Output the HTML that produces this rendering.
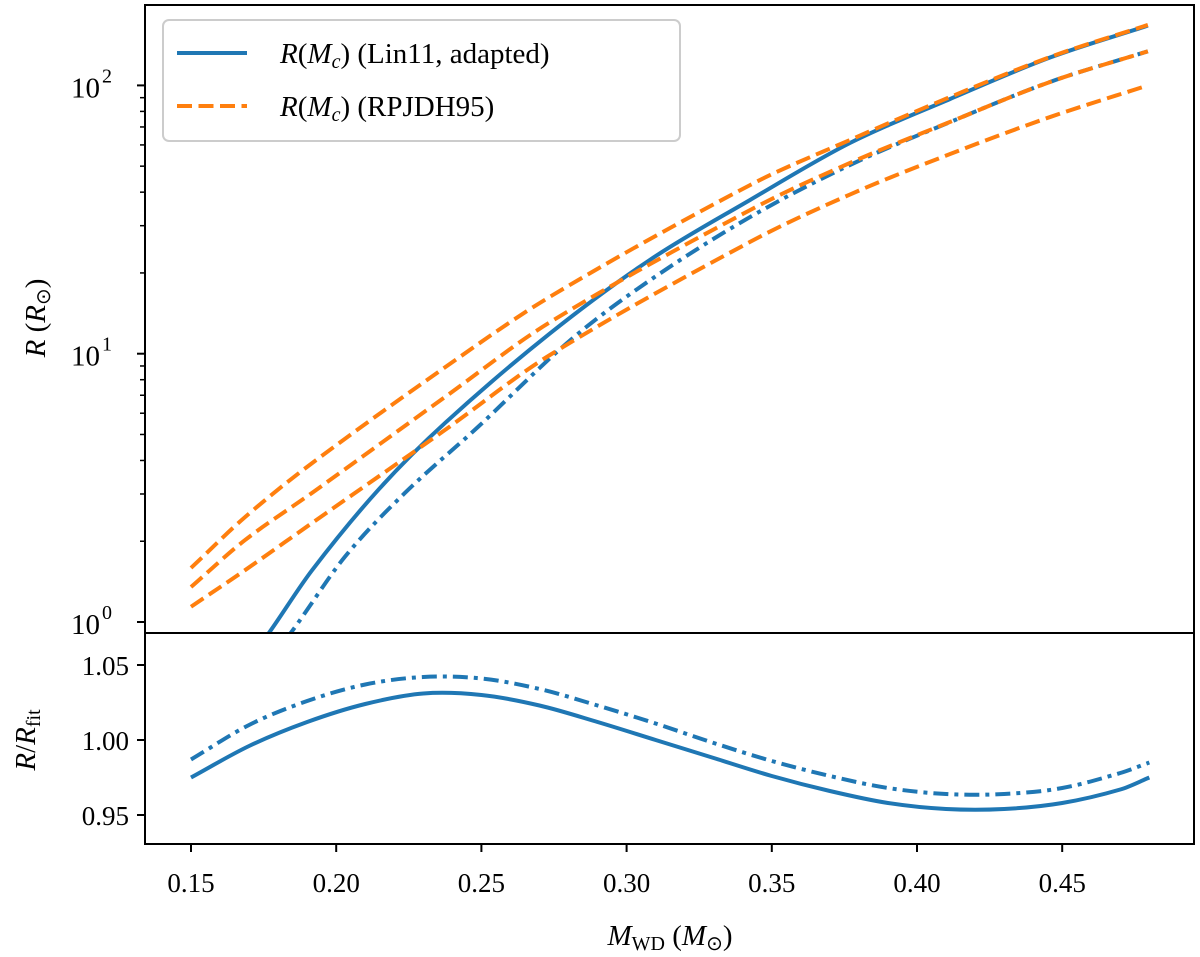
<!DOCTYPE html>
<html><head><meta charset="utf-8"><style>
html,body{margin:0;padding:0;background:#fff;}
svg{display:block;font-family:"Liberation Serif",serif;}
</style></head><body>
<svg id="chart" width="1200" height="957" viewBox="0 0 1200 957">
<defs>
<clipPath id="clipMain"><rect x="145" y="5" width="1049" height="628"/></clipPath>
<clipPath id="clipLow"><rect x="145" y="633" width="1049" height="211"/></clipPath>
</defs>
<g id="series"></g>
<rect x="145" y="5" width="1049" height="628" fill="none" stroke="#000" stroke-width="2"/>
<rect x="145" y="633" width="1049" height="211" fill="none" stroke="#000" stroke-width="2"/>
<g id="ticks"></g>
<g>
<rect x="163" y="20" width="517" height="121" rx="6" fill="#fff" fill-opacity="0.85" stroke="#ccc" stroke-width="2"/>
<line x1="177" y1="53" x2="247" y2="53" stroke="#1f77b4" stroke-width="4"/>
<text x="280" y="63" font-size="29"><tspan font-style="italic">R</tspan>(<tspan font-style="italic">M</tspan><tspan font-style="italic" font-size="20" dy="5">c</tspan><tspan dy="-5">)  (Lin11, adapted)</tspan></text>
<line x1="177" y1="106" x2="247" y2="106" stroke="#ff7f0e" stroke-width="4" stroke-dasharray="15,6.5"/>
<text x="280" y="116" font-size="29"><tspan font-style="italic">R</tspan>(<tspan font-style="italic">M</tspan><tspan font-style="italic" font-size="20" dy="5">c</tspan><tspan dy="-5">)  (RPJDH95)</tspan></text>
</g>
<text transform="translate(45,318) rotate(-90)" font-size="29" text-anchor="middle"><tspan font-style="italic">R</tspan> (<tspan font-style="italic">R</tspan><tspan font-size="20" dy="5">⊙</tspan><tspan dy="-5">)</tspan></text>
<text transform="translate(35,740) rotate(-90)" font-size="29" text-anchor="middle"><tspan font-style="italic">R</tspan>/<tspan font-style="italic">R</tspan><tspan font-size="20" dy="5">fit</tspan></text>
<text x="670" y="945" font-size="29" text-anchor="middle"><tspan font-style="italic">M</tspan><tspan font-size="20" dy="5">WD</tspan><tspan dy="-5"> (</tspan><tspan font-style="italic">M</tspan><tspan font-size="20" dy="5">⊙</tspan><tspan dy="-5">)</tspan></text>
</svg>
<script>
const xTicks = [0.15,0.20,0.25,0.30,0.35,0.40,0.45];
const xTickLabels = ["0.15","0.20","0.25","0.30","0.35","0.40","0.45"];
const yDecades = [0,1,2];
const ratioTicks = [0.95,1.00,1.05];
const ratioTickLabels = ["0.95","1.00","1.05"];

const linM = [0.150,0.163,0.1765,0.1917,0.2144,0.2375,0.2736,0.3081,0.3425,0.3769,0.4114,0.4458,0.4795];
const linR = [0.35,0.58,0.90,1.56,3.10,5.52,11.9,22.4,37.4,61,89,127,167];
const lin2M = [0.150,0.165,0.184,0.203,0.2237,0.2488,0.2805,0.3081,0.3425,0.3769,0.4114,0.4458,0.4795];
const lin2R = [0.30,0.50,0.90,1.75,3.03,5.33,11.2,18.8,32.3,50.5,73,103,134];
const rpM = [0.150,0.1686,0.1917,0.2375,0.2736,0.3425,0.3769,0.4114,0.4458,0.4795];
const rpTopR = [1.59,2.46,3.91,8.9,16.3,42.5,62.6,90.5,127.6,168];
const rpMidR = [1.35,2.02,3.03,6.90,13.1,34.3,51.4,73.1,103,134];
const rpLowR = [1.14,1.56,2.34,5.20,9.89,26.1,39.2,55.5,76.2,100];

const ratioM = [0.15,0.17,0.19,0.21,0.23,0.25,0.27,0.29,0.31,0.33,0.35,0.37,0.39,0.41,0.43,0.45,0.47,0.48];
const ratioSolid = [0.975,0.996,1.012,1.024,1.031,1.030,1.023,1.012,1.000,0.988,0.976,0.966,0.958,0.954,0.954,0.958,0.967,0.975];
const ratioDashDot = [0.987,1.010,1.026,1.037,1.042,1.041,1.034,1.023,1.011,0.998,0.986,0.976,0.968,0.964,0.964,0.968,0.978,0.985];

const NS = "http://www.w3.org/2000/svg";
function xs(m){ return 191 + (m-0.15)*2904; }
function ys(r){ return 622 - Math.log10(r)*268.3; }
function yr(v){ return 740 - (v-1)*1500; }
function el(tag, attrs, parent){ const e=document.createElementNS(NS,tag); for(const k in attrs) e.setAttribute(k,attrs[k]); parent.appendChild(e); return e; }
function smoothPath(px){
  let d = "M"+px[0][0].toFixed(2)+","+px[0][1].toFixed(2);
  const n=px.length, tan=[];
  for(let i=0;i<n;i++){
    const a=px[Math.max(0,i-1)], b=px[Math.min(n-1,i+1)];
    tan.push((b[1]-a[1])/(b[0]-a[0]));
  }
  for(let i=0;i<n-1;i++){
    const p1=px[i], p2=px[i+1], h=(p2[0]-p1[0])/3;
    const c1=[p1[0]+h, p1[1]+tan[i]*h], c2=[p2[0]-h, p2[1]-tan[i+1]*h];
    d += " C"+c1[0].toFixed(2)+","+c1[1].toFixed(2)+" "+c2[0].toFixed(2)+","+c2[1].toFixed(2)+" "+p2[0].toFixed(2)+","+p2[1].toFixed(2);
  }
  return d;
}
const series = document.getElementById("series");
const ticks = document.getElementById("ticks");
const gMain = el("g",{"clip-path":"url(#clipMain)"},series);
const gLow = el("g",{"clip-path":"url(#clipLow)"},series);

function drawCurve(g, ms, vs, yfn, color, dash, name){
  const pts = ms.map((m,i)=>[xs(m), yfn(vs[i])]);
  const p = el("path",{d:smoothPath(pts),fill:"none",stroke:color,"stroke-width":4,"stroke-linecap":"butt"},g);
  if(dash) p.setAttribute("stroke-dasharray",dash);
  
  
}
const DD = "15,6,4,6";
drawCurve(gMain, linM, linR, ys, "#1f77b4", null, "lin11-solid-curve");
drawCurve(gMain, lin2M, lin2R, ys, "#1f77b4", DD, "lin11-dashdot-curve");
drawCurve(gMain, rpM, rpTopR, ys, "#ff7f0e", "15,6.5", "rpjdh95-top-curve");
drawCurve(gMain, rpM, rpMidR, ys, "#ff7f0e", "15,6.5", "rpjdh95-mid-curve");
drawCurve(gMain, rpM, rpLowR, ys, "#ff7f0e", "15,6.5", "rpjdh95-low-curve");
drawCurve(gLow, ratioM, ratioSolid, yr, "#1f77b4", null, "ratio-solid-curve");
drawCurve(gLow, ratioM, ratioDashDot, yr, "#1f77b4", DD, "ratio-dashdot-curve");

xTicks.forEach((t,i)=>{
  const x = xs(t);
  const l = el("line",{x1:x,y1:844,x2:x,y2:852,stroke:"#000","stroke-width":2},ticks);
  
  
  const tx = el("text",{x:x,y:892,"font-size":27,"text-anchor":"middle"},ticks);
  tx.textContent = xTickLabels[i];
  
  
});
yDecades.forEach(d=>{
  const y = ys(Math.pow(10,d));
  const l = el("line",{x1:137,y1:y,x2:145,y2:y,stroke:"#000","stroke-width":2},ticks);
  
  
  const tx = el("text",{x:100,y:y+12,"font-size":29,"text-anchor":"end"},ticks);
  tx.textContent = "10";
  
  
  const sup = el("text",{x:102,y:y-3,"font-size":20,"text-anchor":"start"},ticks);
  sup.textContent = String(d);
  
  
});
for(let d=-1; d<=2; d++){
  for(let k=2;k<=9;k++){
    const y = ys(k*Math.pow(10,d));
    if(y<6||y>632) continue;
    const l = el("line",{x1:140,y1:y,x2:145,y2:y,stroke:"#000","stroke-width":1.5},ticks);
    
    
  }
}
ratioTicks.forEach((t,i)=>{
  const y = yr(t);
  const l = el("line",{x1:137,y1:y,x2:145,y2:y,stroke:"#000","stroke-width":2},ticks);
  
  
  const tx = el("text",{x:129,y:y+10,"font-size":27,"text-anchor":"end"},ticks);
  tx.textContent = ratioTickLabels[i];
  
  
});
</script>
</body></html>
